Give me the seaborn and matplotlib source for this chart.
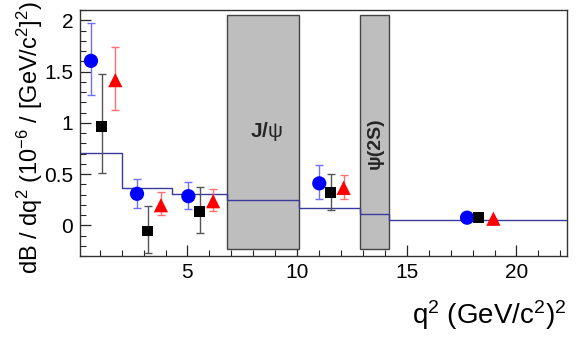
import numpy as np
import pandas as pd
import seaborn as sns
import matplotlib.pyplot as plt
from matplotlib.patches import Rectangle
from matplotlib.ticker import MultipleLocator

# measured points: blue circles, black squares, red triangles
blue_x = [0.60, 2.70, 5.04, 11.01, 17.75]
blue_y = [1.605, 0.308, 0.285, 0.41, 0.075]
blue_up = [0.365, 0.145, 0.135, 0.175, 0.0]
blue_dn = [0.335, 0.136, 0.130, 0.148, 0.0]

black_x = [1.09, 3.18, 5.56, 11.53, 18.26]
black_y = [0.964, -0.055, 0.139, 0.323, 0.081]
black_up = [0.512, 0.242, 0.233, 0.182, 0.0]
black_dn = [0.452, 0.210, 0.210, 0.177, 0.0]

red_x = [1.71, 3.79, 6.17, 12.12, 18.95]
red_y = [1.417, 0.197, 0.236, 0.366, 0.065]
red_up = [0.323, 0.130, 0.123, 0.122, 0.0]
red_dn = [0.291, 0.100, 0.100, 0.107, 0.0]

# theory histogram
edges = [0.0, 2.0, 4.3, 6.8, 10.09, 12.86, 14.18, 22.3]
levels = [0.706, 0.36, 0.31, 0.245, 0.165, 0.114, 0.05]

# charmonium veto boxes
veto_lo = [6.8, 12.86]
veto_hi = [10.09, 14.18]
veto_bottom = -0.23
veto_top = 2.055

sns.set_theme(style="ticks")
plt.rcParams['font.family'] = ['Liberation Sans', 'DejaVu Sans']
plt.rcParams['mathtext.fontset'] = 'custom'
plt.rcParams['mathtext.rm'] = 'Liberation Sans'
plt.rcParams['mathtext.it'] = 'Liberation Sans'
plt.rcParams['mathtext.bf'] = 'Liberation Sans:bold'

fig = plt.figure(figsize=(5.81, 3.37), dpi=100)
ax = fig.add_axes([0.1377, 0.240, 0.838, 0.730])

for lo, hi in zip(veto_lo, veto_hi):
    ax.add_patch(Rectangle((lo, veto_bottom), hi - lo, veto_top - veto_bottom,
                           facecolor="#bebebe", edgecolor="#444444", lw=1.0, zorder=1))

step = pd.DataFrame({"x": edges, "y": levels + [levels[-1]]})
sns.lineplot(data=step, x="x", y="y", drawstyle="steps-post", color="#3a3a9a",
             lw=1.0, ax=ax, zorder=2)

series = [
    (blue_x, blue_y, blue_dn, blue_up, "#0000ff", "#6f6fff", "o", 105),
    (black_x, black_y, black_dn, black_up, "black", "#555555", "s", 62),
    (red_x, red_y, red_dn, red_up, "#ff0000", "#ff6f6f", "^", 105),
]
for xs, ys, dn, up, col, ecol, mk, sz in series:
    ax.errorbar(xs, ys, yerr=[dn, up], fmt="none", ecolor=ecol, elinewidth=1.0,
                capsize=3, capthick=1.0, zorder=3)
    df = pd.DataFrame({"x": xs, "y": ys})
    sns.scatterplot(data=df, x="x", y="y", marker=mk, color=col, s=sz,
                    edgecolor="none", ax=ax, zorder=4)

ax.text(8.6, 0.92, r"J/$\mathrm{\psi}$", fontsize=15, fontweight="bold",
        ha="center", va="center")
ax.text(13.55, 0.80, "ψ(2S)", fontsize=14, fontweight="bold", rotation=90,
        ha="center", va="center")

ax.set_xlim(0.1, 22.3)
ax.set_ylim(-0.3, 2.1)
ax.xaxis.set_major_locator(MultipleLocator(5))
ax.xaxis.set_minor_locator(MultipleLocator(1))
ax.yaxis.set_major_locator(MultipleLocator(0.5))
ax.yaxis.set_minor_locator(MultipleLocator(0.1))
ax.set_yticks([0, 0.5, 1, 1.5, 2])
ax.set_yticklabels(["0", "0.5", "1", "1.5", "2"])
ax.tick_params(which="both", direction="in", top=False, right=False, labelsize=15,
               labelcolor="black")
ax.tick_params(which="major", length=8, width=0.9, pad=5)
ax.tick_params(which="minor", length=4, width=0.8)
for s in ax.spines.values():
    s.set_linewidth(1.0)
    s.set_color("#333333")

ax.set_xlabel(r"q$^2$ (GeV/c$^2$)$^2$", fontsize=20, loc="right", color="black")
ax.xaxis.set_label_coords(1.0, -0.17)
ax.set_ylabel(r"dB / dq$^2$ (10$^{-6}$ / [GeV/c$^2$]$^2$)", fontsize=17, loc="top",
              color="black")
ax.yaxis.set_label_coords(-0.072, 1.035)

fig.savefig("out.png", dpi=100)
